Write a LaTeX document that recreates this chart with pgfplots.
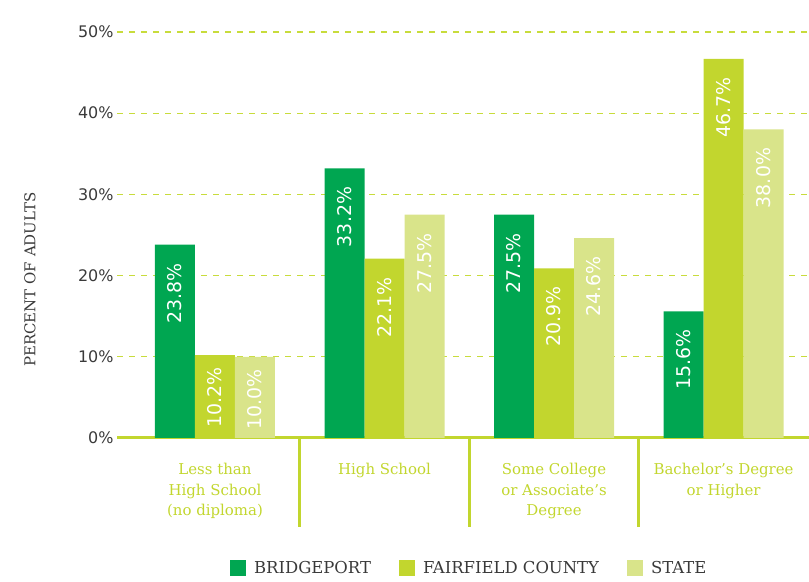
\documentclass[border=0pt]{standalone}
\usepackage{fontspec}
\setmainfont{DejaVu Serif}
\newfontfamily\numfont{DejaVu Sans}
\usepackage{pgfplots}
\pgfplotsset{compat=1.18}
\usetikzlibrary{calc}
\definecolor{cDark}{HTML}{00A651}
\definecolor{cMid}{HTML}{C2D62E}
\definecolor{cLight}{HTML}{D9E48A}
\definecolor{cText}{HTML}{3A3A3A}
\definecolor{cGrid}{HTML}{C8DC3C}

\pgfplotstableread{
x bridgeport fairfield state
0 23.8 10.2 10.0
1 33.2 22.1 27.5
2 27.5 20.9 24.6
3 15.6 46.7 38.0
}\edu

\begin{document}
\begin{tikzpicture}
\begin{axis}[name=ax, scale only axis, width=692bp, height=406bp,
  ybar=0pt, bar width=40bp, clip=false,
  xmin=-0.578, xmax=3.504, ymin=0, ymax=50,
  axis x line*=bottom, axis y line*=left,
  y axis line style={draw=none},
  x axis line style={cMid, line width=3bp, -},
  tick style={draw=none},
  ymajorgrids, grid style={cGrid, dash pattern=on 6bp off 6bp, line width=1.3bp},
  ytick={0,10,20,30,40,50},
  yticklabels={0\%,10\%,20\%,30\%,40\%,50\%},
  yticklabel style={font=\numfont\fontsize{16}{18}\selectfont, text=cText},
  xtick={0,1,2,3},
  xticklabels={{Less than\\High School\\(no diploma)},{High School},{Some College\\or Associate’s\\Degree},{Bachelor’s Degree\\or Higher}},
  xticklabel style={align=center, font=\fontsize{15}{21}\selectfont, text=cMid, yshift=-17bp},
  visualization depends on={rawy \as \rawy},
  nodes near coords={\pgfmathprintnumber[fixed,fixed zerofill,precision=1,assume math mode=true]{\pgfplotspointmeta}\%},
  every node near coord/.append style={yshift={ifthenelse(\rawy<12,-9,-15)*1bp}, rotate=90, anchor=east, text=white,
    font=\numfont\fontsize{19}{19}\selectfont},
  legend columns=3,
  legend style={at={(0.509,-0.32)}, anchor=center, draw=none,
    font=\fontsize{16.5}{18}\selectfont, text=cText,
    /tikz/every odd column/.append style={column sep=6bp},
    /tikz/every even column/.append style={column sep=26bp}},
  legend image code/.code={\fill[#1] (0bp,-8bp) rectangle (16bp,8bp);},
]
\addplot[fill=cDark, draw=none] table[x=x, y=bridgeport] {\edu};
\addlegendentry{BRIDGEPORT}
\addplot[fill=cMid, draw=none] table[x=x, y=fairfield] {\edu};
\addlegendentry{FAIRFIELD COUNTY}
\addplot[fill=cLight, draw=none] table[x=x, y=state] {\edu};
\addlegendentry{STATE}
\draw[cMid, line width=3bp] (axis cs:0.5,0) -- ([yshift=-89bp]axis cs:0.5,0);
\draw[cMid, line width=3bp] (axis cs:1.5,0) -- ([yshift=-89bp]axis cs:1.5,0);
\draw[cMid, line width=3bp] (axis cs:2.5,0) -- ([yshift=-89bp]axis cs:2.5,0);
\coordinate (bl) at (rel axis cs:0,0);
\coordinate (tr) at (rel axis cs:1,1);
\end{axis}
\node[rotate=90, font=\fontsize{15}{17}\selectfont, text=cText]
  at ($(bl)!0.39!(bl|-tr)+(-87bp,0)$) {PERCENT OF ADULTS};
\pgfresetboundingbox
\path[use as bounding box] ($(bl)+(-117bp,-144bp)$) rectangle ($(tr)+(0,32bp)$);
\end{tikzpicture}
\end{document}
